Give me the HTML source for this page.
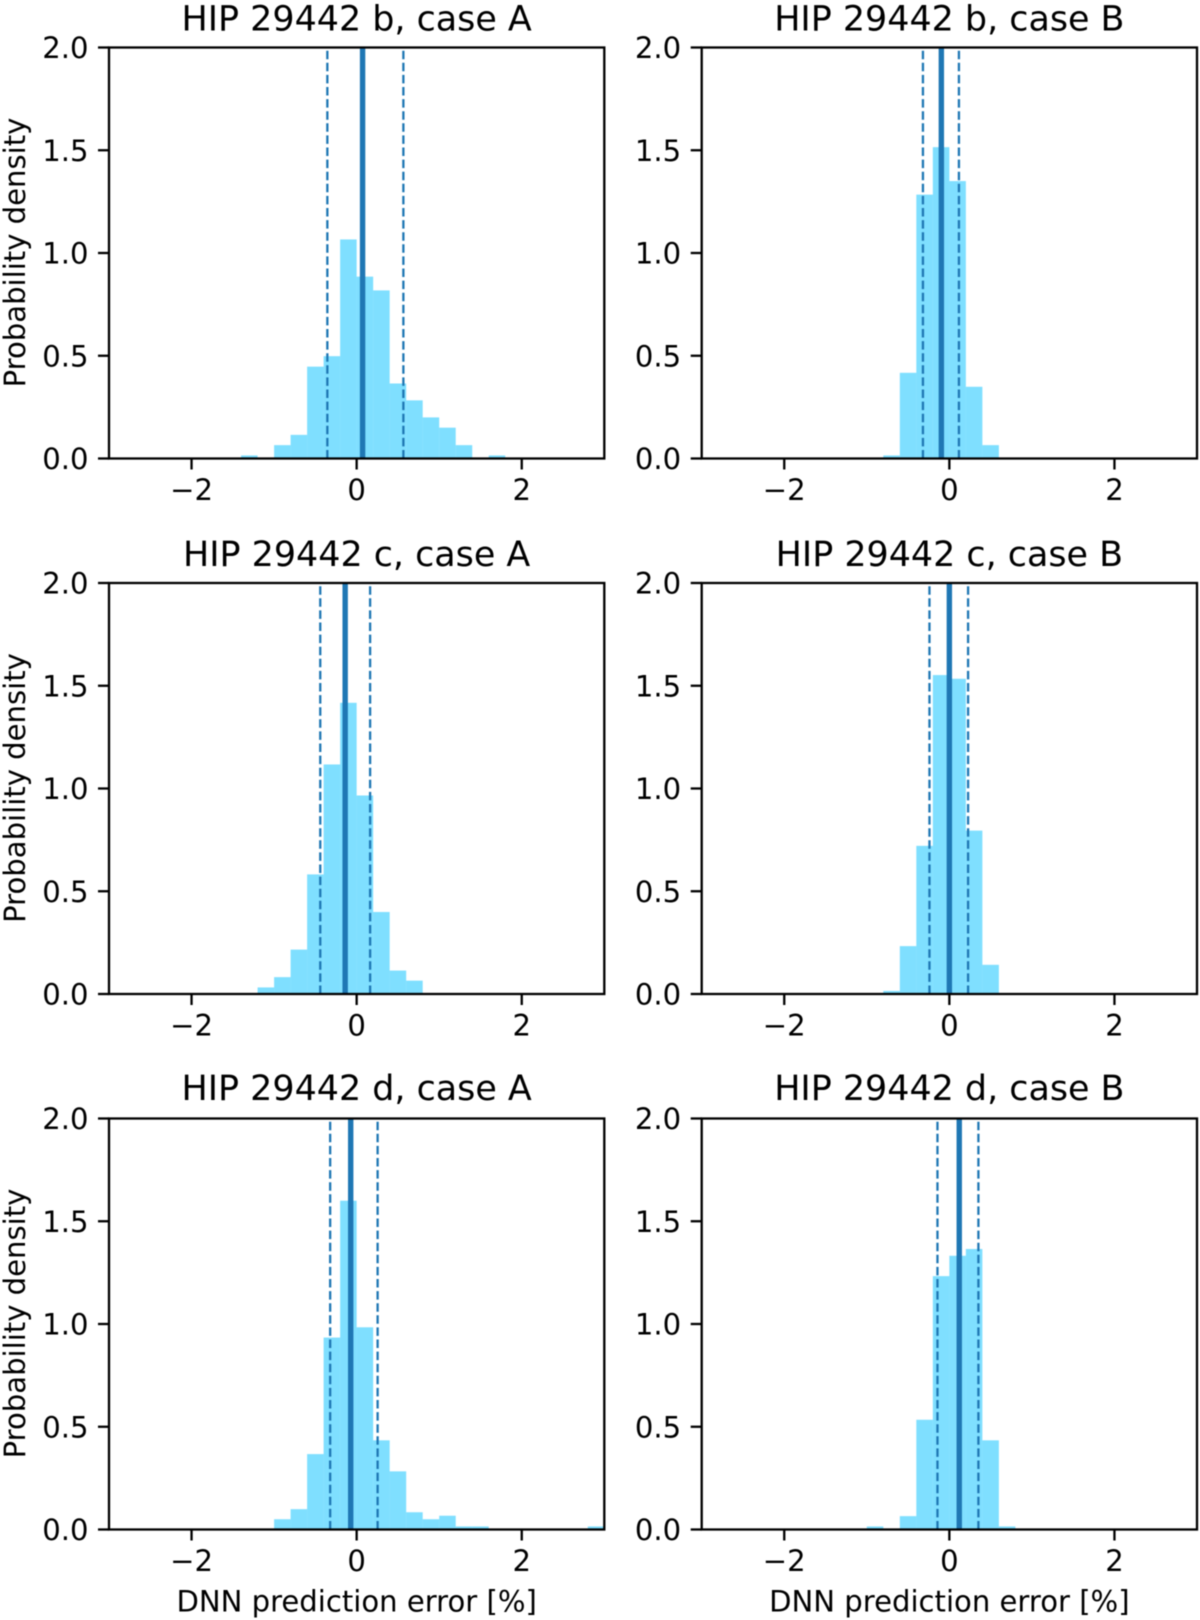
<!DOCTYPE html>
<html lang="en">
<head>
<meta charset="utf-8">
<title>HIP 29442 DNN prediction error histograms</title>
<style>
html,body{margin:0;padding:0;background:#fff;}
#figure{display:block;width:1200px;height:1620px;filter:blur(0.45px);}
text{font-family:"DejaVu Sans",sans-serif;fill:#000;}
</style>
</head>
<body>
<svg id="figure" xmlns="http://www.w3.org/2000/svg" width="1200" height="1620" viewBox="0 0 1200 1620"></svg>
<script>
const xTicks = [-2, 0, 2];
const yTicks = [0, 0.5, 1, 1.5, 2];
const xDomain = [-3, 3];
const yDomain = [0, 2];
const binWidth = 0.2;

const titles = ["HIP 29442 b, case A", "HIP 29442 b, case B", "HIP 29442 c, case A", "HIP 29442 c, case B", "HIP 29442 d, case A", "HIP 29442 d, case B"];

const edgesBA = [-1.4, -1.0, -0.8, -0.6, -0.4, -0.2, 0, 0.2, 0.4, 0.6, 0.8, 1.0, 1.2, 1.6];
const densityBA = [0.015, 0.065, 0.115, 0.447, 0.498, 1.066, 0.885, 0.818, 0.365, 0.283, 0.2, 0.15, 0.065, 0.015];
const linesBA = [-0.355, 0.072, 0.566];

const edgesBB = [-0.8, -0.6, -0.4, -0.2, 0, 0.2, 0.4];
const densityBB = [0.015, 0.417, 1.284, 1.515, 1.35, 0.349, 0.065];
const linesBB = [-0.32, -0.097, 0.116];

const edgesCA = [-1.2, -1.0, -0.8, -0.6, -0.4, -0.2, 0, 0.2, 0.4, 0.6];
const densityCA = [0.032, 0.082, 0.216, 0.582, 1.117, 1.417, 0.966, 0.399, 0.114, 0.065];
const linesCA = [-0.441, -0.139, 0.163];

const edgesCB = [-0.8, -0.6, -0.4, -0.2, 0, 0.2, 0.4];
const densityCB = [0.015, 0.233, 0.721, 1.552, 1.534, 0.795, 0.142];
const linesCB = [-0.241, 0, 0.227];

const edgesDA = [-1.0, -0.8, -0.6, -0.4, -0.2, 0, 0.2, 0.4, 0.6, 0.8, 1.0, 1.2, 1.4, 2.8];
const densityDA = [0.05, 0.099, 0.367, 0.934, 1.6, 0.984, 0.434, 0.283, 0.084, 0.05, 0.067, 0.015, 0.015, 0.015];
const linesDA = [-0.321, -0.072, 0.254];

const edgesDB = [-1.0, -0.6, -0.4, -0.2, 0, 0.2, 0.4, 0.6];
const densityDB = [0.015, 0.065, 0.534, 1.233, 1.332, 1.365, 0.434, 0.015];
const linesDB = [-0.144, 0.12, 0.352];

const allEdges = [edgesBA, edgesBB, edgesCA, edgesCB, edgesDA, edgesDB];
const allDensity = [densityBA, densityBB, densityCA, densityCB, densityDA, densityDB];
const allLines = [linesBA, linesBB, linesCA, linesCB, linesDA, linesDB];

const yLabelText = "Probability density";
const xLabelText = "DNN prediction error [%]";

const NS = "http://www.w3.org/2000/svg";
const root = document.getElementById("figure");
const colLeft = [109, 701.7];
const rowTop = [47.5, 583, 1118.5];
const titleGap = [17, 17, 18.5];
const plotW = 495.3;
const plotH = 411;
const ink = "#000";
const tickFont = 29.1;
const titleFont = 34.9;

function mk(parent, tag, props, content) {
  const el = document.createElementNS(NS, tag);
  for (const k in props) el.setAttribute(k, props[k]);
  if (content !== undefined) el.textContent = content;
  parent.appendChild(el);
  return el;
}
function fmtY(v) { return v.toFixed(1); }
function fmtX(v) { return v < 0 ? "\u2212" + Math.abs(v) : String(v); }

titles.forEach(function (title, p) {
  const col = p % 2;
  const row = Math.floor(p / 2);
  const left = colLeft[col];
  const top = rowTop[row];
  const bottom = top + plotH;
  const sx = function (v) { return left + (v - xDomain[0]) / (xDomain[1] - xDomain[0]) * plotW; };
  const sy = function (v) { return bottom - (v - yDomain[0]) / (yDomain[1] - yDomain[0]) * plotH; };

  const g = mk(root, "g", {});
  
  

  const bg = mk(g, "rect", {x: left, y: top, width: plotW, height: plotH, fill: "#fff"});
  
  

  allEdges[p].forEach(function (edge, i) {
    const d = allDensity[p][i];
    const bar = mk(g, "rect", {
      x: sx(edge), y: sy(d),
      width: sx(edge + binWidth) - sx(edge),
      height: sy(0) - sy(d),
      fill: "#00bfff", "fill-opacity": 0.5
    });
    
    
  });

  allLines[p].forEach(function (v, i) {
    const isMean = i === 1;
    const ln = mk(g, "line", {
      x1: sx(v), x2: sx(v), y1: bottom, y2: top,
      stroke: "#1f77b4",
      "stroke-width": isMean ? 5.4 : 2.3
    });
    if (!isMean) ln.setAttribute("stroke-dasharray", "8.5 3.6");
    
    
  });

  const frame = mk(g, "rect", {x: left, y: top, width: plotW, height: plotH, fill: "none", stroke: ink, "stroke-width": 2.3});
  
  

  yTicks.forEach(function (v) {
    const t = mk(g, "line", {x1: left - 11, x2: left, y1: sy(v), y2: sy(v), stroke: ink, "stroke-width": 2.3});
    
    
    const l = mk(g, "text", {x: left - 20.5, y: sy(v) + 10.6, "text-anchor": "end", "font-size": tickFont}, fmtY(v));
    
    
  });

  xTicks.forEach(function (v) {
    const t = mk(g, "line", {x1: sx(v), x2: sx(v), y1: bottom, y2: bottom + 11, stroke: ink, "stroke-width": 2.3});
    
    
    const l = mk(g, "text", {x: sx(v), y: bottom + 41.5, "text-anchor": "middle", "font-size": tickFont}, fmtX(v));
    
    
  });

  const tt = mk(g, "text", {x: left + plotW / 2, y: top - titleGap[row], "text-anchor": "middle", "font-size": titleFont}, title);
  
  

  if (col === 0) {
    const yl = mk(g, "text", {
      transform: "translate(25," + (top + plotH / 2 - 0.5) + ") rotate(-90)",
      "text-anchor": "middle", "font-size": tickFont
    }, yLabelText);
    
    
  }
  if (row === 2) {
    const xl = mk(g, "text", {x: left + plotW / 2, y: bottom + 82, "text-anchor": "middle", "font-size": tickFont}, xLabelText);
    
    
  }
});
</script>
</body>
</html>
